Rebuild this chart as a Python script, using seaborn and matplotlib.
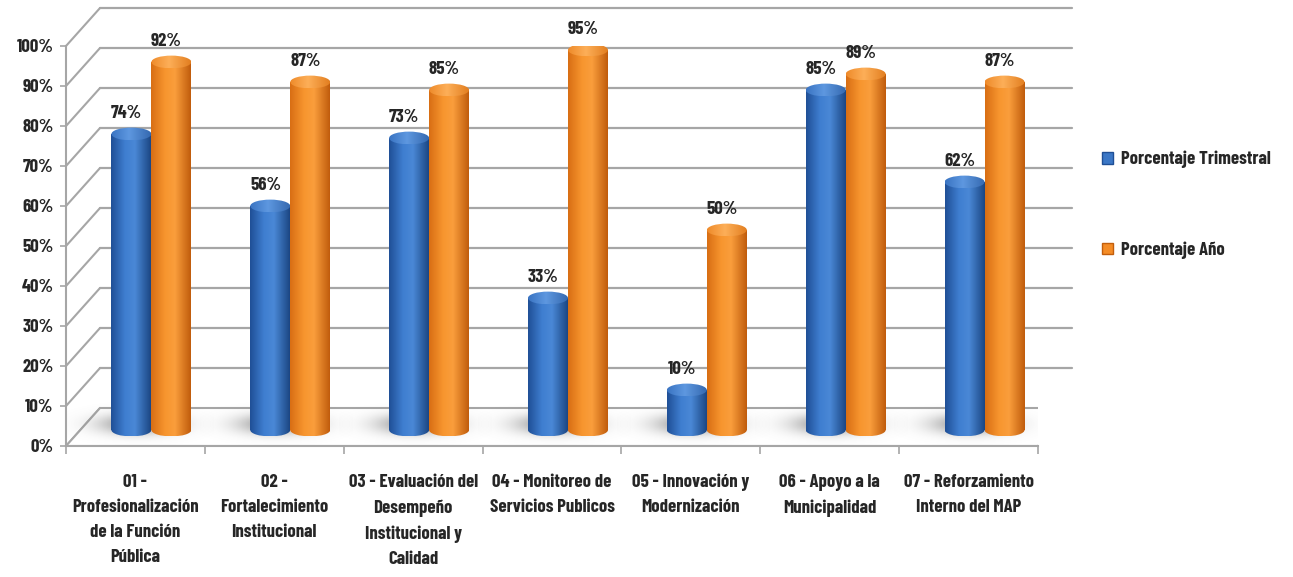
import numpy as np
import pandas as pd
import seaborn as sns
import matplotlib.pyplot as plt
from matplotlib.colors import LinearSegmentedColormap
from matplotlib.patches import Ellipse, Rectangle, Polygon, Patch

#####################################
# Data
#####################################

categories = [
    "01 -\nProfesionalización\nde la Función\nPública",
    "02 -\nFortalecimiento\nInstitucional",
    "03 - Evaluación del\nDesempeño\nInstitucional y\nCalidad",
    "04 - Monitoreo de\nServicios Publicos",
    "05 - Innovación y\nModernización",
    "06 - Apoyo a la\nMunicipalidad",
    "07 - Reforzamiento\nInterno del MAP",
]
porcentaje_trimestral = [74, 56, 73, 33, 10, 85, 62]
porcentaje_anio = [92, 87, 85, 95, 50, 89, 87]
series_names = ["Porcentaje Trimestral", "Porcentaje Año"]
y_ticks = list(range(0, 101, 10))

#####################################
# Style
#####################################

GRID = "#A6A6A6"
BLUE_BODY = [(0, "#1F4F96"), (0.35, "#3F7ED0"), (0.6, "#4A88D6"), (1, "#1B4683")]
BLUE_CAP = [(0, "#3A74C2"), (0.45, "#5E98E0"), (1, "#3569B0")]
ORANGE_BODY = [(0, "#D86E14"), (0.35, "#F7952E"), (0.6, "#FA9E3C"), (1, "#C05C0C")]
ORANGE_CAP = [(0, "#EE8A2A"), (0.45, "#FDAF58"), (1, "#E27E20")]

# fake 3D depth, in data units (x: category slots, y: percent)
WALL_DX, WALL_DY = 0.245, 9.5
BAR_DX, BAR_DY = 0.115, 4.0
CAP_H = 3.2
FONT_SIZE = 13.5


def draw_cylinder(ax, bar, body_cmap, cap_cmap, z):
    """Replace a flat seaborn bar with a shaded cylinder sitting on the floor."""
    x0 = bar.get_x() + BAR_DX
    w = bar.get_width()
    h = bar.get_height()
    y0 = BAR_DY
    y1 = y0 + h
    grad = np.linspace(0, 1, 256).reshape(1, -1)

    body = Rectangle((x0, y0), w, h, transform=ax.transData)
    base = Ellipse((x0 + w / 2, y0), w, CAP_H, transform=ax.transData)
    for clip in (body, base):
        im = ax.imshow(grad, cmap=body_cmap, aspect="auto", zorder=z,
                       extent=(x0, x0 + w, y0 - CAP_H / 2, y1))
        im.set_clip_path(clip)

    cap = Ellipse((x0 + w / 2, y1), w, CAP_H, transform=ax.transData)
    im = ax.imshow(grad, cmap=cap_cmap, aspect="auto", zorder=z + 0.1,
                   extent=(x0, x0 + w, y1 - CAP_H / 2, y1 + CAP_H / 2))
    im.set_clip_path(cap)

    ax.annotate(f"{h:.0f}%", (x0 + w / 2, y1), xytext=(-3.5, 15),
                textcoords="offset points", ha="center", va="center",
                fontsize=FONT_SIZE, fontweight="bold", zorder=10)


def draw_shadow(ax, xc):
    """Soft grey blur on the floor behind a pair of cylinders."""
    sx, sy = 0.55, 6.0
    yc = BAR_DY + 1.5
    gx, gy = np.meshgrid(np.linspace(-1, 1, 120), np.linspace(-1, 1, 60))
    rgba = np.zeros((60, 120, 4))
    rgba[..., :3] = 0.45
    rgba[..., 3] = 0.75 * np.exp(-((gx / 0.7) ** 2 + (gy / 0.6) ** 2) * 2.0)
    ax.imshow(rgba, aspect="auto", zorder=1.5,
              extent=(xc - sx, xc + sx, yc - sy, yc + sy))


def main():
    df = pd.DataFrame({
        "categoria": categories * 2,
        "serie": [series_names[0]] * len(categories) + [series_names[1]] * len(categories),
        "valor": porcentaje_trimestral + porcentaje_anio,
    })

    sns.set_style("white")
    plt.rcParams["font.family"] = ["Barlow Condensed", "DejaVu Sans"]
    plt.rcParams["font.weight"] = "bold"

    fig = plt.figure(figsize=(12.93, 5.77), dpi=100)
    ax = fig.add_axes([66 / 1293, 131 / 577, 972 / 1293, 400 / 577])

    sns.barplot(data=df, x="categoria", y="valor", hue="serie",
                palette=["#3B77C6", "#F48C26"], width=0.576, saturation=1,
                legend=False, ax=ax)

    n = len(categories)
    left, right = -0.5, n - 0.5

    # floor and walls
    floor = Polygon([(left, 0), (right, 0), (right + WALL_DX, WALL_DY), (left + WALL_DX, WALL_DY)],
                    closed=True, facecolor="white", edgecolor=GRID, lw=1.5, zorder=1)
    ax.add_patch(floor)
    for v in y_ticks:
        ax.plot([left, left + WALL_DX], [v, v + WALL_DY], color=GRID, lw=1.5, zorder=0.5, clip_on=False)
        if v > 0:
            ax.plot([left + WALL_DX, right + WALL_DX], [v + WALL_DY] * 2,
                    color=GRID, lw=1.6, zorder=0.5, clip_on=False)

    for c in range(n):
        draw_shadow(ax, c + BAR_DX - 0.1)

    maps = [
        (LinearSegmentedColormap.from_list("b_body", BLUE_BODY), LinearSegmentedColormap.from_list("b_cap", BLUE_CAP)),
        (LinearSegmentedColormap.from_list("o_body", ORANGE_BODY), LinearSegmentedColormap.from_list("o_cap", ORANGE_CAP)),
    ]
    for k, (container, (body_cmap, cap_cmap)) in enumerate(zip(ax.containers, maps)):
        for bar in container:
            bar.set_visible(False)
            draw_cylinder(ax, bar, body_cmap, cap_cmap, 3 + k)

    # axes
    ax.set_xlim(left, right)
    ax.set_ylim(0, 100)
    ax.set_xlabel("")
    ax.set_ylabel("")
    for side in ["top", "right"]:
        ax.spines[side].set_visible(False)
    for side in ["left", "bottom"]:
        ax.spines[side].set_color(GRID)
        ax.spines[side].set_linewidth(1.5)
        ax.spines[side].set_zorder(2)

    ax.set_yticks(y_ticks, [f"{v}%" for v in y_ticks])
    ax.set_xticks(range(n), categories)
    ax.set_xticks(np.arange(left, right + 0.5, 1), minor=True)
    ax.tick_params(axis="y", length=4, width=1.2, color=GRID, pad=5, labelsize=FONT_SIZE, left=True)
    ax.tick_params(axis="x", which="major", length=0, pad=20, labelsize=FONT_SIZE)
    ax.tick_params(axis="x", which="minor", length=6, width=1.2, color=GRID, bottom=True)
    for lab in ax.get_xticklabels():
        lab.set_linespacing(1.62)

    handles = [Patch(facecolor="#3B77C6", edgecolor="#1F4F96"),
               Patch(facecolor="#F48C26", edgecolor="#C25E0C")]
    ax.legend(handles, series_names, loc="center left",
              bbox_to_anchor=(1102 / 1293, 1 - 205 / 577), bbox_transform=fig.transFigure,
              frameon=False, prop={"size": FONT_SIZE, "weight": "bold"},
              handlelength=0.6, handleheight=0.6, handletextpad=0.4,
              labelspacing=3.9, borderpad=0, borderaxespad=0)

    fig.savefig("out.png", dpi=100)


if __name__ == "__main__":
    main()
